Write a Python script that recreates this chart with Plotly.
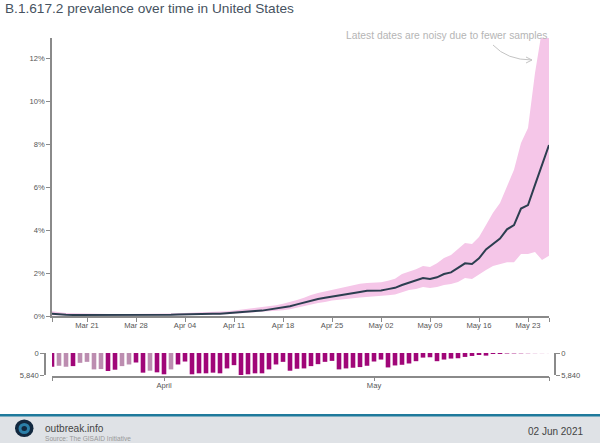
import pandas as pd
import plotly.graph_objects as go

dates = pd.date_range("2021-03-16", "2021-05-26").strftime("%Y-%m-%d").tolist()

prevalence = [
    .10, .07, .06, .05, .05, .05, .04, .03, .05, .03, .03, .04, .04, .04, .05, .05,
    .06, .06, .07, .07, .08, .09, .10, .10, .11, .14,
    .16, .18, .21, .23, .25, .30, .35, .37, .45, .54, .63, .70, .79, .85, .91, .96,
    1.01, 1.07, 1.12, 1.17, 1.18, 1.19, 1.25, 1.31, 1.44, 1.54, 1.66, 1.77, 1.72,
    1.80, 1.95, 2.03, 2.24, 2.45, 2.42, 2.68, 3.10, 3.35, 3.60, 4.03, 4.23, 5.00,
    5.16, 6.10, 7.05, 7.95,
]
upper = [
    .22, .17, .14, .13, .12, .11, .09, .08, .09, .08, .08, .09, .09, .10, .10, .11,
    .12, .12, .13, .14, .15, .16, .17, .18, .20, .22,
    .25, .29, .33, .36, .41, .47, .50, .57, .64, .74, .85, .98, 1.07, 1.14, 1.20, 1.28,
    1.35, 1.42, 1.50, 1.53, 1.54, 1.57, 1.64, 1.73, 1.95, 2.05, 2.18, 2.33, 2.28,
    2.45, 2.70, 2.84, 3.10, 3.40, 3.35, 3.67, 4.23, 4.80, 5.25, 6.00, 6.80, 8.05,
    8.74, 11.30, 13.30, 13.30,
]
lower = [
    .03, .03, .02, .02, .02, .02, .01, .01, .02, .01, .01, .02, .02, .02, .02, .03,
    .03, .03, .04, .04, .05, .05, .06, .07, .07, .08,
    .10, .12, .14, .16, .18, .21, .24, .27, .31, .39, .45, .52, .60, .65, .72, .75,
    .80, .83, .86, .88, .89, .92, .96, 1.00, 1.12, 1.21, 1.26, 1.35, 1.30,
    1.35, 1.44, 1.49, 1.58, 1.77, 1.72, 1.95, 2.14, 2.33, 2.42, 2.50, 2.50, 2.88,
    2.88, 2.98, 2.60, 2.80,
]
samples = [
    3650, 3390, 3650, 3480, 2610, 2350, 4350, 4260, 4785, 4435, 3480, 3045, 2525, 5220,
    4700, 5130, 5655, 4350, 3045, 2265, 5655, 5395, 5395, 5220, 5395, 4090, 3225, 5840,
    5655, 5395, 5395, 4350, 3045, 2350, 4700, 4180,
    4090, 3480, 2960, 2350, 2090, 4350, 4090, 3915, 3740, 3390, 2260, 1740, 3830, 3305,
    3130, 2785, 2175, 1220, 1130, 2175, 1740, 1480, 1390, 1045, 785, 520, 695, 260,
    200, 170, 130, 90, 60, 40, 25, 15,
]
low_sample_days = [
    "2021-03-17", "2021-03-18", "2021-03-20", "2021-03-21", "2021-03-22", "2021-03-23",
    "2021-03-26", "2021-03-27", "2021-03-30", "2021-04-02",
]
tail_days = ["2021-05-20", "2021-05-21", "2021-05-22", "2021-05-23", "2021-05-24", "2021-05-25", "2021-05-26"]
tail_opacity = [0.5, 0.4, 0.3, 0.2, 0.12, 0.08, 0.05]

main_ticks = ["2021-03-16", "2021-03-21", "2021-03-28", "2021-04-04", "2021-04-11", "2021-04-18",
              "2021-04-25", "2021-05-02", "2021-05-09", "2021-05-16", "2021-05-23", "2021-05-26"]
main_labels = ["", "Mar 21", "Mar 28", "Apr 04", "Apr 11", "Apr 18",
               "Apr 25", "May 02", "May 09", "May 16", "May 23", ""]
pct_ticks = [0, 2, 4, 6, 8, 10, 12]
month_ticks = ["2021-03-16", "2021-04-01", "2021-05-01", "2021-05-26"]
month_labels = ["", "April", "May", ""]

W, H = 600, 448
px = lambda v: v / W
py = lambda v: 1 - v / H

BAR = "#a00678"
BAR_LIGHT = "#bc8db0"
AXIS = "#8a8a8a"
TXT = "#555555"
FONT = "Liberation Sans, Arial, sans-serif"

opac = []
bar_colors = []
for d in dates:
    opac.append(tail_opacity[tail_days.index(d)] if d in tail_days else 1)
    bar_colors.append(BAR_LIGHT if d in low_sample_days else BAR)

fig = go.Figure()
fig.add_trace(go.Scatter(x=dates, y=upper, mode="lines", line=dict(width=0, color="#f5c6e8"),
                         cliponaxis=False, showlegend=False, hoverinfo="skip"))
fig.add_trace(go.Scatter(x=dates, y=lower, mode="lines", line=dict(width=0, color="#f5c6e8"),
                         fill="tonexty", fillcolor="#f5c6e8", cliponaxis=False,
                         showlegend=False, hoverinfo="skip"))
fig.add_trace(go.Scatter(x=dates, y=prevalence, mode="lines", line=dict(width=2, color="#2c3e50"),
                         cliponaxis=False, showlegend=False))
bar_w = 4.6 / 7 * 86400000
fig.add_trace(go.Bar(x=dates, y=samples, xaxis="x2", yaxis="y2", width=bar_w,
                     marker=dict(color=bar_colors, opacity=opac, line=dict(width=0)),
                     cliponaxis=False, showlegend=False))
fig.add_trace(go.Bar(x=dates[:1], y=[0], xaxis="x2", yaxis="y3", width=bar_w,
                     marker=dict(color=BAR, opacity=0), showlegend=False, hoverinfo="skip"))

x_range = ["2021-03-16", "2021-05-26"]
axis_common = dict(showgrid=False, zeroline=False, showline=True, linecolor=AXIS, linewidth=1.5,
                   ticks="outside", tickcolor=AXIS, tickwidth=1,
                   tickfont=dict(family=FONT, size=7.6, color=TXT))

layout_shapes = [
    dict(type="rect", xref="paper", yref="paper", x0=0, x1=1, y0=py(443), y1=py(415),
         fillcolor="#dfe2e6", line=dict(width=0), layer="below"),
    dict(type="rect", xref="paper", yref="paper", x0=0, x1=1, y0=py(416.5), y1=py(414),
         fillcolor="#1f7a9c", line=dict(width=0), layer="below"),
    dict(type="circle", xref="paper", yref="paper", x0=px(15), x1=px(33.5), y0=py(437), y1=py(419.5),
         fillcolor="#12283f", line=dict(width=0)),
    dict(type="circle", xref="paper", yref="paper", x0=px(18.5), x1=px(30), y0=py(434), y1=py(423),
         fillcolor="#2b7fa8", line=dict(width=0)),
    dict(type="circle", xref="paper", yref="paper", x0=px(21.5), x1=px(27), y0=py(431), y1=py(426),
         fillcolor="#12283f", line=dict(width=0)),
    dict(type="path", xref="paper", yref="paper",
         path=f"M {px(493)} {py(45)} Q {px(507)} {py(60)} {px(532)} {py(60)}",
         line=dict(color="#c4c4c4", width=1)),
    dict(type="path", xref="paper", yref="paper",
         path=f"M {px(526)} {py(57)} L {px(532)} {py(60)} L {px(526)} {py(63)}",
         line=dict(color="#c4c4c4", width=1)),
]

annotations = [
    dict(text="B.1.617.2 prevalence over time in United States", x=px(3), y=py(8.5), xanchor="left",
         yanchor="middle", font=dict(family=FONT, size=13.65, color="#465260")),
    dict(text="Latest dates are noisy due to fewer samples", x=px(549), y=py(35), xanchor="right",
         yanchor="middle", font=dict(family=FONT, size=10.3, color="#b5b5b5")),
    dict(text="outbreak.info", x=px(42.5), y=py(428), xanchor="left", yanchor="middle",
         font=dict(family=FONT, size=10.1, color="#444444")),
    dict(text="Source: The GISAID Initiative", x=px(42.5), y=py(438), xanchor="left", yanchor="middle",
         font=dict(family=FONT, size=6.6, color="#999999")),
    dict(text="02 Jun 2021", x=px(585), y=py(431), xanchor="right", yanchor="middle",
         font=dict(family=FONT, size=10, color="#444444")),
]
for a in annotations:
    a.update(xref="paper", yref="paper", showarrow=False)

fig.update_layout(
    width=W, height=H, autosize=False,
    margin=dict(l=0, r=0, t=0, b=0, autoexpand=False),
    paper_bgcolor="white", plot_bgcolor="rgba(0,0,0,0)",
    barmode="overlay", showlegend=False,
    xaxis=dict(domain=[px(52), px(549)], range=x_range, type="date", anchor="y",
               tickmode="array", tickvals=main_ticks, ticktext=main_labels, ticklen=4,
               ticklabelstandoff=-3, **axis_common),
    yaxis=dict(domain=[py(316), py(38)], range=[0, 12.93], anchor="x", tickmode="array",
               tickvals=pct_ticks, ticktext=[f"{v}%" for v in pct_ticks], ticklen=4, **axis_common),
    xaxis2=dict(domain=[px(52), px(549)], range=x_range, type="date", anchor="free",
                position=py(376.5), tickmode="array", tickvals=month_ticks, ticktext=month_labels,
                ticklen=4, ticklabelstandoff=-2, **axis_common),
    yaxis2=dict(domain=[py(375), py(353)], range=[5840, 0], anchor="free", position=px(45),
                side="left", tickmode="array", tickvals=[0, 5840], ticktext=["0", "5,840"],
                ticklen=4, **axis_common),
    yaxis3=dict(domain=[py(375), py(353)], range=[5840, 0], anchor="free", position=px(555),
                side="right", overlaying="y2", tickmode="array", tickvals=[0, 5840],
                ticktext=["0", "5,840"], ticklen=4, **axis_common),
    shapes=layout_shapes,
    annotations=annotations,
)
fig.write_html("out.html", config={"displayModeBar": False},
               post_script="document.body.style.margin='0';")
